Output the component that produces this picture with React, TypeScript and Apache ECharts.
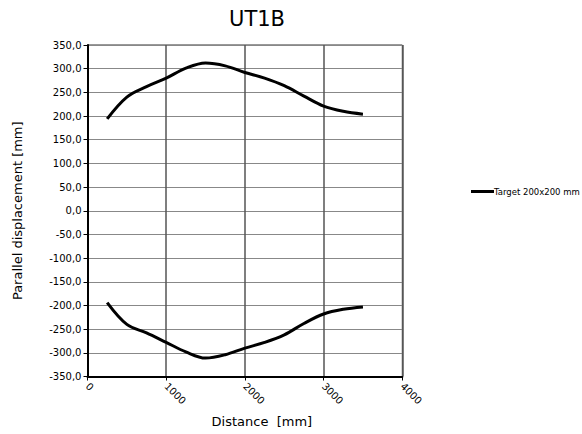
import React, { useEffect, useRef } from "react";
import * as echarts from "echarts";

const distances = [250, 500, 750, 1000, 1250, 1500, 1750, 2000, 2250, 2500, 2750, 3000, 3250, 3500];
const upperValues = [194, 240, 262, 280, 301, 312, 306, 292, 280, 264, 242, 221, 210, 204];
const lowerValues = [-194, -240, -258, -278, -298, -311, -304, -290, -278, -262, -238, -218, -208, -203];
const seriesName = "Target 200x200 mm";
const titleText = "UT1B";
const xName = "Distance  [mm]";
const yName = "Parallel displacement [mm]";

const FONT = "DejaVu Sans";

export default function App() {
  const ref = useRef<HTMLDivElement>(null);
  useEffect(() => {
    if (!ref.current) return;
    const chart = echarts.init(ref.current, null, { renderer: "svg" });
    const upper = distances.map((d, i) => [d, upperValues[i]]);
    const lower = distances.map((d, i) => [d, lowerValues[i]]);
    chart.setOption({
      animation: false,
      backgroundColor: "#fff",
      title: {
        text: titleText,
        left: 252,
        top: 3,
        textAlign: "center",
        textStyle: { fontFamily: FONT, fontSize: 21, fontWeight: "normal", color: "#000" },
      },
      legend: {
        data: [seriesName],
        left: 466,
        top: 182,
        icon: "rect",
        itemWidth: 23,
        itemHeight: 3,
        textStyle: { fontFamily: FONT, fontSize: 8.5, color: "#000", padding: [0, 0, 0, -5] },
      },
      grid: {
        left: 87.5,
        right: 179.7,
        top: 45,
        bottom: 57.5,
        show: true,
        borderColor: "#333",
        borderWidth: 1,
      },
      xAxis: {
        type: "value",
        min: 0,
        max: 4000,
        interval: 1000,
        axisLine: { show: true, onZero: false, lineStyle: { color: "#000", width: 2 } },
        axisTick: { show: true, length: 4, lineStyle: { color: "#000", width: 1 } },
        axisLabel: {
          rotate: -45,
          fontFamily: FONT,
          fontSize: 10,
          color: "#000",
          margin: 8,
          formatter: (v: number) => String(v),
        },
        splitLine: { show: true, lineStyle: { color: "#555", width: 1.5 } },
        name: xName,
        nameLocation: "middle",
        nameGap: 38,
        nameTextStyle: { fontFamily: FONT, fontSize: 13, color: "#000", padding: [0, 0, 0, 34] },
      },
      yAxis: {
        type: "value",
        min: -350,
        max: 350,
        interval: 50,
        axisLine: { show: true, onZero: false, lineStyle: { color: "#000", width: 2 } },
        axisTick: { show: true, length: 4, lineStyle: { color: "#000", width: 1 } },
        axisLabel: {
          fontFamily: FONT,
          fontSize: 10,
          color: "#000",
          margin: 6,
          formatter: (v: number) => v.toFixed(1).replace(".", ","),
        },
        splitLine: { show: true, lineStyle: { color: "#888", width: 1 } },
        name: yName,
        nameLocation: "middle",
        nameGap: 64,
        nameTextStyle: { fontFamily: FONT, fontSize: 13, color: "#000" },
      },
      series: [
        {
          name: seriesName,
          type: "line",
          data: upper,
          smooth: 0.35,
          showSymbol: false,
          color: "#000",
          lineStyle: { color: "#000", width: 3 },
        },
        {
          name: seriesName,
          type: "line",
          data: lower,
          smooth: 0.35,
          showSymbol: false,
          color: "#000",
          lineStyle: { color: "#000", width: 3 },
        },
      ],
    });
    return () => chart.dispose();
  }, []);
  return (
    <div
      ref={ref}
      style={{ position: "fixed", left: 0, top: 0, width: 582, height: 434 }}
    />
  );
}
